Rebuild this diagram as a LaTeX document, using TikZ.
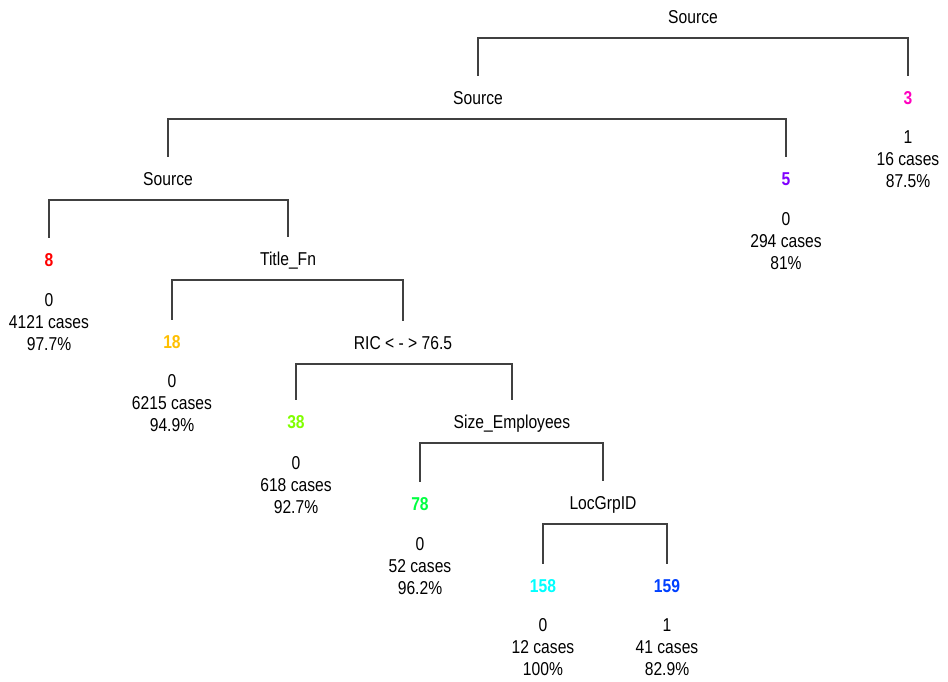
\documentclass[tikz,border=0pt]{standalone}
\usepackage{fontspec}
\setmainfont{Liberation Sans}[FakeStretch=0.84]
\usepackage{tikz}
\usepackage{xcolor}
\usetikzlibrary{calc}
\definecolor{node8}{HTML}{FF0000}
\definecolor{node18}{HTML}{FFBF00}
\definecolor{node38}{HTML}{80FF00}
\definecolor{node78}{HTML}{00FF40}
\definecolor{node158}{HTML}{00FFFF}
\definecolor{node159}{HTML}{0040FF}
\definecolor{node5}{HTML}{8000FF}
\definecolor{node3}{HTML}{FF00BF}
\tikzset{
  rtree/.style={
    x=0.02cm, y=-0.02cm,
    every node/.style={font=\fontsize{10.6}{12.5}\selectfont, inner sep=0pt}
  },
  splitnode/.style={text height=7.6pt, text depth=0pt},
  leafnum/.style={text height=7.6pt, text depth=0pt, font=\fontsize{10.6}{12.5}\selectfont\bfseries},
  leafinfo/.style={align=center},
  bracket/.style={draw=black!75, line width=0.6pt}
}
\newcommand{\bracketto}[3]{%
  \draw[bracket] ($(#2.center)+(0,-22)$) |- ($(#1.center)+(0,21)$) -| ($(#3.center)+(0,-22)$);}
\newcommand{\Leaf}[2]{{\color{#1}{#2}}}

\begin{document}
\begin{tikzpicture}[rtree]
    \useasboundingbox (0,0) rectangle (948,682);
    % splits
    \node[splitnode] (s1) at (693,17) {Source};
    \node[splitnode] (s2) at (478,98) {Source};
    \node[splitnode] (s3) at (168,179) {Source};
    \node[splitnode] (title) at (288,259) {Title\_Fn};
    \node[splitnode] (ric) at (403,343) {RIC < - > 76.5};
    \node[splitnode] (size) at (512,422) {Size\_Employees};
    \node[splitnode] (loc) at (603,503) {LocGrpID};
    % leaves
    \node[leafnum] (n3) at (908,98) {\Leaf{node3}{3}};
    \node[leafinfo] (i3) at (908,159) {1\\16 cases\\87.5\%};
    \node[leafnum] (n5) at (786,179) {\Leaf{node5}{5}};
    \node[leafinfo] (i5) at (786,241) {0\\294 cases\\81\%};
    \node[leafnum] (n8) at (49,260) {\Leaf{node8}{8}};
    \node[leafinfo] (i8) at (49,322) {0\\4121 cases\\97.7\%};
    \node[leafnum] (n18) at (172,342) {\Leaf{node18}{18}};
    \node[leafinfo] (i18) at (172,403) {0\\6215 cases\\94.9\%};
    \node[leafnum] (n38) at (296,422) {\Leaf{node38}{38}};
    \node[leafinfo] (i38) at (296,485) {0\\618 cases\\92.7\%};
    \node[leafnum] (n78) at (420,504) {\Leaf{node78}{78}};
    \node[leafinfo] (i78) at (420,566) {0\\52 cases\\96.2\%};
    \node[leafnum] (n158) at (543,586) {\Leaf{node158}{158}};
    \node[leafinfo] (i158) at (543,647) {0\\12 cases\\100\%};
    \node[leafnum] (n159) at (667,586) {\Leaf{node159}{159}};
    \node[leafinfo] (i159) at (667,647) {1\\41 cases\\82.9\%};
    % brackets
    \bracketto{s1}{s2}{n3}
    \bracketto{s2}{s3}{n5}
    \bracketto{s3}{n8}{title}
    \bracketto{title}{n18}{ric}
    \bracketto{ric}{n38}{size}
    \bracketto{size}{n78}{loc}
    \bracketto{loc}{n158}{n159}
\end{tikzpicture}
\end{document}
